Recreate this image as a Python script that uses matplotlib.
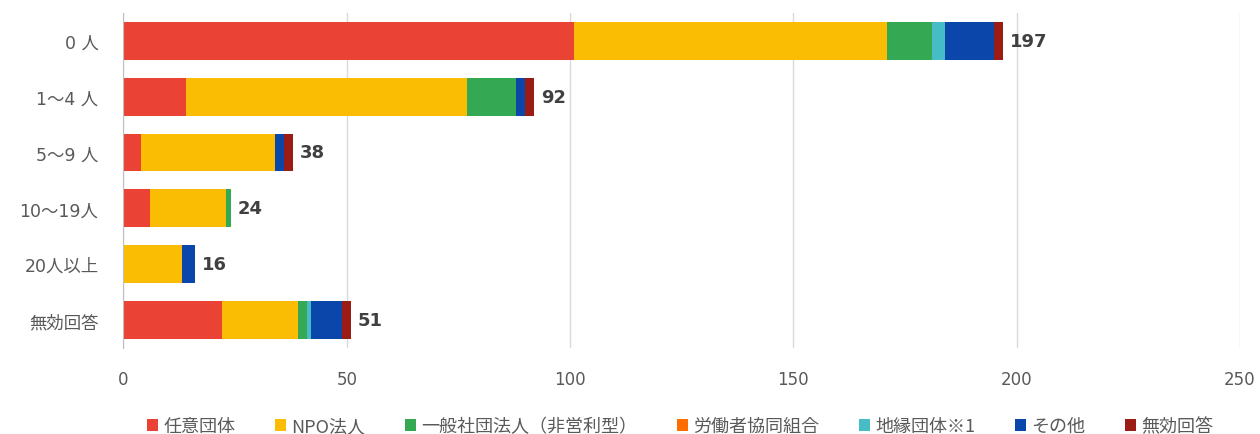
import numpy as np
import matplotlib.pyplot as plt

plt.rcParams['font.family'] = ['DejaVu Sans', 'Noto Sans CJK JP']

categories = ['0 人', '1～4 人', '5～9 人', '10～19人', '20人以上', '無効回答']
series_names = ['任意団体', 'NPO法人', '一般社団法人（非営利型）', '労働者協同組合',
                '地縁団体※1', 'その他', '無効回答']
nini = [101, 14, 4, 6, 0, 22]
npo = [70, 63, 30, 17, 13, 17]
ippan = [10, 11, 0, 1, 0, 2]
roudou = [0, 0, 0, 0, 0, 0]
chien = [3, 0, 0, 0, 0, 1]
sonota = [11, 2, 2, 0, 3, 7]
mukou = [2, 2, 2, 0, 0, 2]
totals = [197, 92, 38, 24, 16, 51]

colors = ['#EA4335', '#FBBC04', '#34A853', '#FF6D01', '#46BDC6', '#0B47AA', '#9B1B15']

fig = plt.figure(figsize=(12.6, 4.35), dpi=100)
ax = fig.add_axes([0.098, 0.198, 0.886, 0.77])

y = np.arange(len(categories))
left = np.zeros(len(categories))
for name, vals, c in zip(series_names, [nini, npo, ippan, roudou, chien, sonota, mukou], colors):
    ax.barh(y, vals, left=left, height=0.68, color=c, label=name, zorder=3)
    left += np.array(vals)

for i, t in enumerate(totals):
    ax.text(t + 1.5, i, str(t), va='center', ha='left', fontsize=13,
            fontweight='bold', color='#404040')

ax.set_xlim(0, 250)
ax.set_ylim(len(categories) - 0.5, -0.5)
ax.set_yticks(y)
ax.set_yticklabels(categories, fontsize=12.5, color='#595959')
ax.set_xticks([0, 50, 100, 150, 200, 250])
ax.tick_params(axis='x', labelsize=12, labelcolor='#595959', length=0, pad=16)
ax.tick_params(axis='y', length=0, pad=18)
ax.grid(axis='x', color='#D9D9D9', linewidth=1, zorder=0)
for s in ['top', 'right', 'bottom']:
    ax.spines[s].set_visible(False)
ax.spines['left'].set_color('#BFBFBF')
ax.spines['left'].set_zorder(4)

handles, labels = ax.get_legend_handles_labels()
fig.legend(handles, labels, loc='lower center', ncol=7, frameon=False,
           prop={'family': ['Noto Sans CJK JP'], 'size': 13},
           handlelength=0.6, handleheight=0.7, handletextpad=0.3,
           columnspacing=2.2, bbox_to_anchor=(0.54, -0.04), labelcolor='#595959')

fig.savefig('out.png', dpi=100)
